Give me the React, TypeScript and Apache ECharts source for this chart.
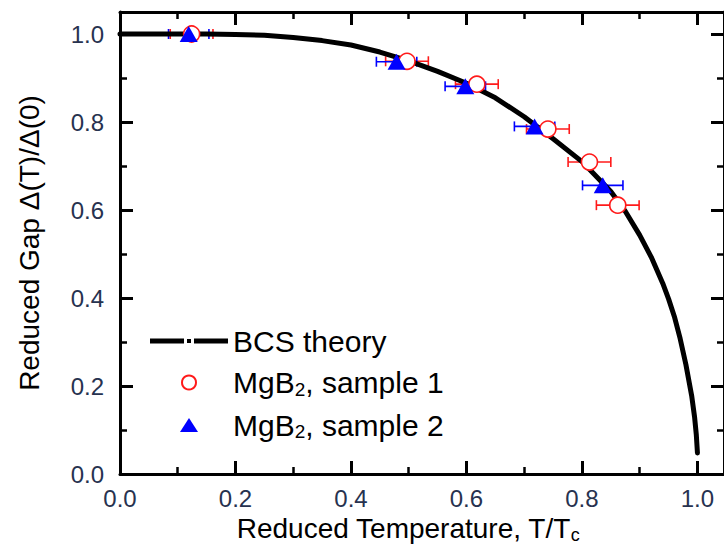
import React, { useEffect, useRef } from "react";
import * as echarts from "echarts";

// ---- axis ranges / ticks ----
const X_MIN = 0;
const X_MAX = 1.046;
const Y_MIN = 0;
const Y_MAX = 1.05;
const MAJOR_STEP = 0.2;
const MINOR_STEP = 0.1;

// ---- BCS theory curve ----
const BCS_T = [0, 0.05, 0.1, 0.15, 0.2, 0.25, 0.3, 0.35, 0.4, 0.45, 0.5, 0.55, 0.6, 0.65, 0.7, 0.75, 0.8, 0.85, 0.875, 0.9, 0.92, 0.94, 0.95, 0.96, 0.97, 0.98, 0.99, 0.995, 0.998, 1.0];
const BCS_GAP = [1.0, 1.0, 1.0, 1.0, 0.999, 0.997, 0.992, 0.985, 0.975, 0.959, 0.939, 0.915, 0.888, 0.855, 0.812, 0.762, 0.71, 0.642, 0.597, 0.543, 0.493, 0.433, 0.398, 0.358, 0.308, 0.249, 0.178, 0.13, 0.09, 0.048];

// ---- MgB2 sample 1 (open red circles) ----
const S1_T = [0.124, 0.497, 0.618, 0.741, 0.813, 0.862];
const S1_GAP = [1.0, 0.938, 0.886, 0.784, 0.709, 0.611];
const S1_TERR = [0.037, 0.037, 0.037, 0.037, 0.037, 0.037];

// ---- MgB2 sample 2 (filled blue triangles) ----
const S2_T = [0.119, 0.479, 0.598, 0.718, 0.836];
const S2_GAP = [1.0, 0.937, 0.881, 0.79, 0.656];
const S2_TERR = [0.035, 0.035, 0.035, 0.035, 0.035];

const NAME_BCS = "BCS theory";
const NAME_S1 = "MgB2, sample 1";
const NAME_S2 = "MgB2, sample 2";

const FONT = "Liberation Sans, Arial, sans-serif";
const TICK_COLOR = "#27324f";
const RED = "#ff1a1a";
const BLUE = "#0000ff";

function errBarSeries(name: string, t: number[], g: number[], e: number[], color: string) {
  return {
    type: "custom",
    name,
    xAxisIndex: 0,
    yAxisIndex: 0,
    encode: { x: 0, y: 1 },
    data: t.map((v, i) => [v, g[i], e[i]]),
    renderItem: (params: any, api: any) => {
      const x = api.value(0);
      const y = api.value(1);
      const err = api.value(2);
      const p1 = api.coord([x - err, y]);
      const p2 = api.coord([x + err, y]);
      const h = 5;
      const style = { stroke: color, lineWidth: 1.6 };
      return {
        type: "group",
        children: [
          { type: "line", shape: { x1: p1[0], y1: p1[1], x2: p2[0], y2: p2[1] }, style },
          { type: "line", shape: { x1: p1[0], y1: p1[1] - h, x2: p1[0], y2: p1[1] + h }, style },
          { type: "line", shape: { x1: p2[0], y1: p2[1] - h, x2: p2[0], y2: p2[1] + h }, style },
        ],
      };
    },
    silent: true,
  };
}

function makeX(position: string, step: number, len: number, w: number, showLine: boolean, labels: boolean, extra: any = {}) {
  return {
    type: "value",
    position,
    min: X_MIN,
    max: X_MAX,
    interval: step,
    splitLine: { show: false },
    axisLine: { show: showLine, onZero: false, lineStyle: { color: "#000", width: 3 } },
    axisTick: { show: true, inside: true, length: len, lineStyle: { color: "#000", width: w } },
    axisLabel: labels
      ? { show: true, margin: 12, fontSize: 24, fontFamily: FONT, color: TICK_COLOR, showMaxLabel: false, formatter: (v: number) => v.toFixed(1) }
      : { show: false },
    ...extra,
  };
}

function makeY(position: string, step: number, len: number, w: number, showLine: boolean, labels: boolean, extra: any = {}) {
  return {
    type: "value",
    position,
    min: Y_MIN,
    max: Y_MAX,
    interval: step,
    splitLine: { show: false },
    axisLine: { show: showLine, onZero: false, lineStyle: { color: "#000", width: 3 } },
    axisTick: { show: true, inside: true, length: len, lineStyle: { color: "#000", width: w } },
    axisLabel: labels
      ? { show: true, margin: 16, fontSize: 24, fontFamily: FONT, color: TICK_COLOR, showMaxLabel: false, formatter: (v: number) => v.toFixed(1) }
      : { show: false },
    ...extra,
  };
}

export default function App() {
  const ref = useRef<HTMLDivElement>(null);
  useEffect(() => {
    document.body.style.margin = "0";
    if (!ref.current) return;
    const chart = echarts.init(ref.current, undefined, { renderer: "svg" });
    const legendRich = {
      t: { fontFamily: FONT, fontSize: 30, lineHeight: 32, color: "#000" },
      s: { fontFamily: FONT, fontSize: 19, lineHeight: 12, color: "#000", verticalAlign: "bottom" },
    };
    const titleRich = {
      t: { fontFamily: FONT, fontSize: 28, lineHeight: 30, color: "#000" },
      s: { fontFamily: FONT, fontSize: 18, lineHeight: 12, color: "#000", verticalAlign: "bottom" },
    };
    chart.setOption({
      animation: false,
      backgroundColor: "#fff",
      grid: { left: 120, right: -3, top: 12, bottom: 81, containLabel: false },
      xAxis: [
        makeX("bottom", MAJOR_STEP, 13, 3, true, true, {
          name: "{t|Reduced Temperature, T/T}{s|c}",
          nameLocation: "middle",
          nameGap: 27,
          nameTextStyle: { fontFamily: FONT, fontSize: 28, color: "#000", padding: [0, 28, 0, 0], rich: titleRich },
        }),
        makeX("bottom", MINOR_STEP, 7, 2.5, false, false),
        makeX("top", MAJOR_STEP, 13, 3, true, false),
        makeX("top", MINOR_STEP, 7, 2.5, false, false),
      ],
      yAxis: [
        makeY("left", MAJOR_STEP, 13, 3, true, true, {
          name: "Reduced Gap Δ(T)/Δ(0)",
          nameLocation: "middle",
          nameGap: 77,
          nameTextStyle: { fontFamily: FONT, fontSize: 28, color: "#000" },
        }),
        makeY("left", MINOR_STEP, 7, 2.5, false, false),
        makeY("right", MAJOR_STEP, 13, 3, true, false),
        makeY("right", MINOR_STEP, 7, 2.5, false, false),
      ],
      legend: {
        orient: "vertical",
        left: 150,
        top: 326,
        padding: 0,
        itemGap: 11.5,
        itemWidth: 78,
        itemHeight: 14,
        selectedMode: false,
        data: [
          { name: NAME_BCS, icon: "path://M0,0H34V5H0Z M37,0.5H41V4.5H37Z M44,0H78V5H44Z" },
          { name: NAME_S1 },
          { name: NAME_S2, icon: "path://M9,0L18,14L0,14Z" },
        ],
        formatter: (name: string) => {
          if (name === NAME_S1) return "{t|MgB}{s|2}{t|, sample 1}";
          if (name === NAME_S2) return "{t|MgB}{s|2}{t|, sample 2}";
          return "{t|" + name + "}";
        },
        textStyle: { fontFamily: FONT, fontSize: 30, color: "#000", rich: legendRich },
      },
      series: [
        {
          type: "line",
          name: NAME_BCS,
          xAxisIndex: 0,
          yAxisIndex: 0,
          data: BCS_T.map((t, i) => [t, BCS_GAP[i]]),
          symbol: "none",
          showSymbol: false,
          color: "#000",
          lineStyle: { color: "#000", width: 5, cap: "round", join: "round" },
          z: 2,
        },
        errBarSeries("err1", S1_T, S1_GAP, S1_TERR, RED),
        {
          type: "scatter",
          name: NAME_S1,
          xAxisIndex: 0,
          yAxisIndex: 0,
          data: S1_T.map((t, i) => [t, S1_GAP[i]]),
          symbol: "circle",
          symbolSize: 16,
          color: RED,
          itemStyle: { color: "#fff", borderColor: RED, borderWidth: 1.6, opacity: 1 },
        },
        errBarSeries("err2", S2_T, S2_GAP, S2_TERR, BLUE),
        {
          type: "scatter",
          name: NAME_S2,
          xAxisIndex: 0,
          yAxisIndex: 0,
          data: S2_T.map((t, i) => [t, S2_GAP[i]]),
          symbol: "triangle",
          symbolSize: [18, 16],
          color: BLUE,
          itemStyle: { color: BLUE, opacity: 1 },
        },
      ],
    });
    return () => chart.dispose();
  }, []);
  return <div ref={ref} style={{ width: 724, height: 555 }} />;
}
